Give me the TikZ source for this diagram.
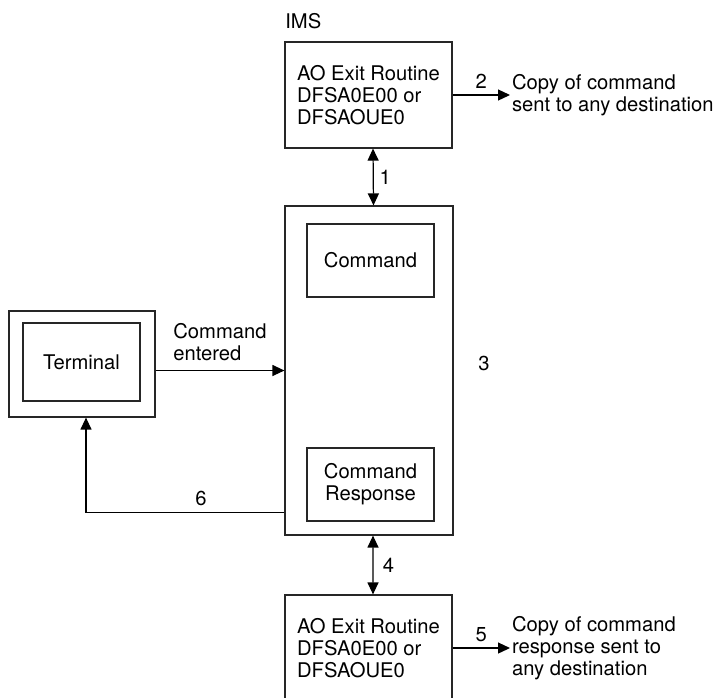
\documentclass[tikz,border=0pt]{standalone}
\usepackage{fontspec}
\setmainfont{TeX Gyre Heros}
\usetikzlibrary{arrows.meta}
\tikzset{box/.style={draw=black!85, line width=0.7pt, inner sep=0pt},
  arr/.style={line width=0.7pt, -{Triangle[length=0.24cm, width=0.22cm]}},
  dblarr/.style={line width=0.7pt,
    {Triangle[length=0.24cm, width=0.22cm]}-{Triangle[length=0.24cm, width=0.22cm]}}
}

\begin{document}
\begin{tikzpicture}[x=0.02cm, y=-0.02cm, font=\fontsize{11.5}{12.6}\selectfont]
      \useasboundingbox (0,0) rectangle (719,697);
      \node[anchor=base west, inner sep=0pt] (ims label) at (285,28) {IMS};
      \node[box, minimum width=3.34cm, minimum height=2.12cm, align=left] (exit top) at (368.5,95)
        {AO Exit Routine\\DFSA0E00 or\\DFSAOUE0};
      \node[box, minimum width=3.36cm, minimum height=6.58cm] (ims) at (369,370.5) {};
      \node[box, minimum width=2.54cm, minimum height=1.46cm] (cmd) at (370.5,260.5) {Command};
      \node[box, minimum width=2.54cm, minimum height=1.46cm, align=center] (resp) at (370.5,484.5)
        {Command\\Response};
      \node[box, minimum width=2.92cm, minimum height=2.12cm] (term) at (82,364) {};
      \node[box, minimum width=2.34cm, minimum height=1.56cm] (term screen) at (81.5,362) {Terminal};
      \node (step3) at (484,363) {3};
      \node[box, minimum width=3.34cm, minimum height=2.12cm, align=left] (exit bottom) at (368.5,648)
        {AO Exit Routine\\DFSA0E00 or\\DFSAOUE0};
      % copies sent out by the exit routines
      \coordinate (copy top) at (510,95);
      \coordinate (copy bottom) at (510,648);
      \draw[arr] (exit top.east) -- (copy top) node[midway, above]{2};
      \node[anchor=west, align=left, inner sep=1pt] (copy top text) at (copy top)
        {Copy of command\\sent to any destination};
      \draw[arr] (exit bottom.east) -- (copy bottom) node[midway, above]{5};
      \node[anchor=west, align=left, inner sep=1pt] (copy bottom text) at (copy bottom)
        {Copy of command\\response sent to\\any destination};
      % command path
      \draw[dblarr] ([xshift=0.09cm]exit top.south) -- ([xshift=0.09cm]ims.north) node[midway, right]{1};
      \draw[arr] (term.east |- ims.west) -- (ims.west)
        node[midway, above, align=left, yshift=2pt]{Command\\entered};
      \draw[arr] ([yshift=0.46cm]ims.south west) -| ([xshift=0.08cm]term.south) node[pos=0.21, above]{6};
      \draw[dblarr] ([xshift=0.08cm]ims.south) -- ([xshift=0.09cm]exit bottom.north)
        node[midway, right, xshift=2pt]{4};
    \end{tikzpicture}
\end{document}
